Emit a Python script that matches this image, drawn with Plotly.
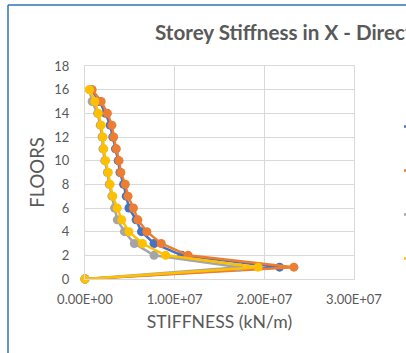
import plotly.graph_objects as go

floors = list(range(0, 17))
series_names = ["MODEL 1", "MODEL 2", "MODEL 3", "MODEL 4"]
colors = ["#4472C4", "#ED7D31", "#A5A5A5", "#FFC000"]

blue = [0, 21.7e6, 10.8e6, 7.7e6, 6.3e6, 5.7e6, 4.9e6, 4.6e6, 4.3e6, 3.9e6, 3.7e6, 3.4e6, 3.1e6, 2.8e6, 2.3e6, 1.6e6, 0.7e6]
orange = [0, 23.3e6, 11.5e6, 8.5e6, 6.9e6, 5.9e6, 5.4e6, 4.8e6, 4.5e6, 4.0e6, 3.8e6, 3.5e6, 3.2e6, 3.0e6, 2.5e6, 1.8e6, 0.8e6]
grey = [0, 17.2e6, 7.7e6, 5.5e6, 4.4e6, 3.6e6, 3.3e6, 3.0e6, 2.7e6, 2.5e6, 2.2e6, 2.0e6, 1.9e6, 1.7e6, 1.4e6, 0.8e6, 0.5e6]
yellow = [0, 19.3e6, 9.0e6, 6.4e6, 4.9e6, 4.1e6, 3.6e6, 3.1e6, 2.8e6, 2.6e6, 2.3e6, 2.1e6, 2.0e6, 1.8e6, 1.5e6, 1.1e6, 0.5e6]

x_tickvals = [0, 1e7, 2e7, 3e7]
x_ticktext = ["0.00E+00", "1.00E+07", "2.00E+07", "3.00E+07"]
y_tickvals = list(range(0, 19, 2))

W, H = 406, 353
L, R, T, B = 85, 52, 66, 74
pw, ph = W - L - R, H - T - B

def px(x):
    return (x - L) / pw

def py(y):
    return (H - B - y) / ph

fig = go.Figure()
for name, col, vals in zip(series_names, colors, [blue, orange, grey, yellow]):
    fig.add_trace(go.Scatter(
        x=vals, y=floors, name=name, mode="lines+markers",
        line=dict(color=col, width=2.5),
        marker=dict(color=col, size=9),
        legendgroup=name, cliponaxis=False,
    ))

grid = "#D9D9D9"
tick_font = dict(family="Lato", size=13, color="#595959")
fig.update_layout(
    width=W, height=H,
    margin=dict(l=L, r=R, t=T, b=B, autoexpand=False),
    paper_bgcolor="white", plot_bgcolor="white",
    title=dict(text="<b>Storey Stiffness in X - Direction</b>", xref="paper", x=px(155), xanchor="left",
               yref="container", y=1 - 33 / H, yanchor="middle",
               font=dict(family="Lato", size=20.6, color="#595959")),
    xaxis=dict(range=[0, 3e7], tickvals=x_tickvals, ticktext=x_ticktext,
               showgrid=True, gridcolor=grid, gridwidth=1,
               showline=True, linecolor=grid, mirror=True, zeroline=False,
               tickfont=tick_font, ticks="", ticklabelstandoff=8,
               title=dict(text="STIFFNESS (kN/m)", font=dict(family="Lato", size=17.6, color="#595959"), standoff=10)),
    yaxis=dict(range=[0, 18], tickvals=y_tickvals,
               showgrid=True, gridcolor=grid, gridwidth=1,
               showline=True, linecolor=grid, mirror=True, zeroline=False,
               tickfont=dict(family="Lato", size=13, color="#595959"), ticks="", ticklabelstandoff=12,
               title=dict(text="FLOORS", font=dict(family="Lato", size=18.5, color="#595959"), standoff=4)),
    showlegend=True,
    legend=dict(x=px(399), xanchor="left", y=py(112), yanchor="top",
                font=dict(family="Lato", size=11, color="#595959"),
                tracegroupgap=25, bgcolor="rgba(0,0,0,0)"),
    shapes=[
        dict(type="line", xref="paper", yref="paper", x0=px(8), x1=px(8), y0=py(5), y1=py(360),
             line=dict(color="#2E75B6", width=1.5)),
        dict(type="line", xref="paper", yref="paper", x0=px(8), x1=px(420), y0=py(5), y1=py(5),
             line=dict(color="#2E75B6", width=1.5)),
    ],
)

fig.write_html("out.html")
